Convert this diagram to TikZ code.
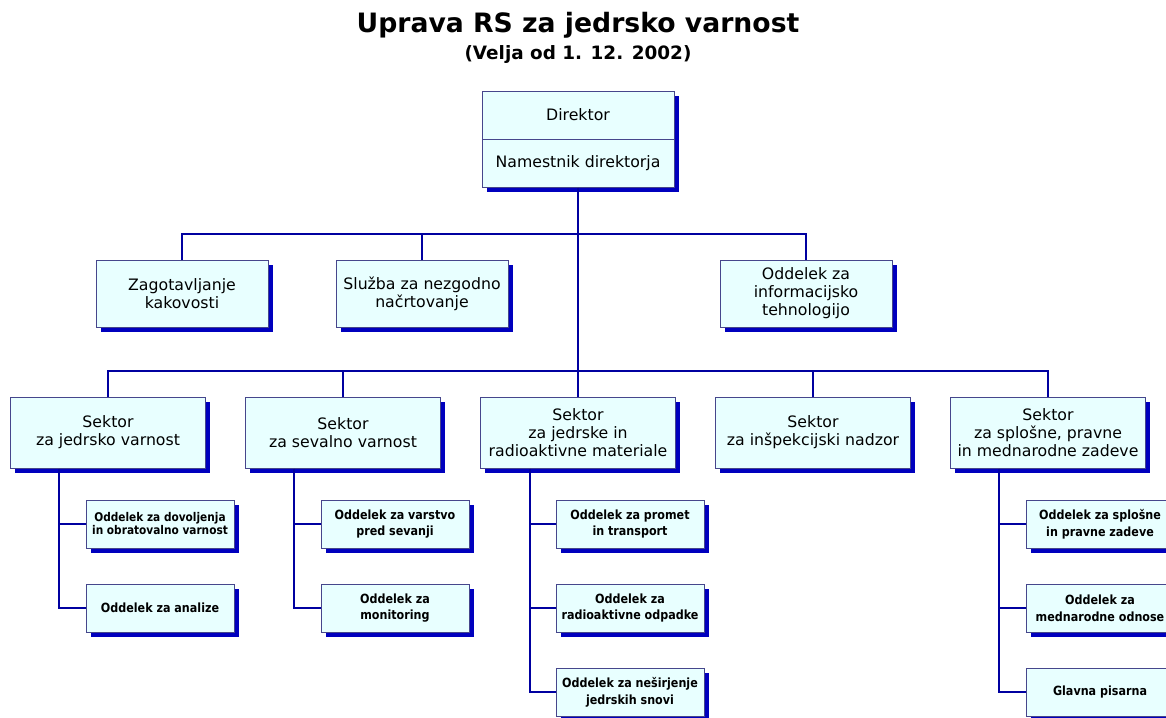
\documentclass[tikz,border=0pt]{standalone}
\usepackage{fontspec}
\setmainfont{DejaVu Sans}
\newfontfamily\deptfont[FakeStretch=0.88]{DejaVu Sans}
\usetikzlibrary{shadows}

\definecolor{boxfill}{RGB}{232,255,255}
\definecolor{boxline}{RGB}{70,70,140}
\definecolor{shadowblue}{RGB}{0,0,190}
\definecolor{linkblue}{RGB}{0,0,160}

\tikzset{
  orgbox/.style={draw=boxline, fill=boxfill, line width=0.75pt, align=center, inner sep=0pt,
    drop shadow={shadow xshift=3.6pt, shadow yshift=-3.6pt, fill=shadowblue, opacity=1},
    font=\fontsize{11.8}{13.5}\selectfont},
  headbox/.style={orgbox, minimum width=144pt, minimum height=36pt},
  staffbox/.style={orgbox, minimum width=129pt, minimum height=50.25pt},
  sectorbox/.style={orgbox, minimum width=146.25pt, minimum height=53.25pt},
  deptbox/.style={orgbox, minimum width=111pt, minimum height=36pt,
    font=\deptfont\fontsize{9.5}{12.5}\selectfont\bfseries},
  link/.style={draw=linkblue, line width=1.5pt},
}

\begin{document}
\begin{tikzpicture}[x=0.75pt,y=0.75pt,yscale=-1,xscale=1]
\clip (0,0) rectangle (1166,717);

% Title
\node [anchor=base, font=\fontsize{20}{24}\selectfont\bfseries] (title) at (578,33) {Uprava RS za jedrsko varnost};
\node [anchor=base, font=\fontsize{13.8}{16}\selectfont\bfseries] (subtitle) at (578,60) {(Velja od 1. 12. 2002)};

% Director
\node [headbox] (dir) at (578,115) {Direktor};
\node [headbox] (dep) at (578,163) {Namestnik direktorja};

% Staff units
\node [staffbox] (zag) at (182,293.5) {Zagotavljanje\\kakovosti};
\node [staffbox] (sluzba) at (422,293.5) {Služba za nezgodno\\načrtovanje};
\node [staffbox] (it) at (806,293.5) {Oddelek za\\informacijsko\\tehnologijo};

% Sectors
\node [sectorbox] (s1) at (108,432.5) {Sektor\\za jedrsko varnost};
\node [sectorbox] (s2) at (343,432.5) {Sektor\\za sevalno varnost};
\node [sectorbox] (s3) at (578,432.5) {Sektor\\za jedrske in\\radioaktivne materiale};
\node [sectorbox] (s4) at (813,432.5) {Sektor\\za inšpekcijski nadzor};
\node [sectorbox] (s5) at (1048,432.5) {Sektor\\za splošne, pravne\\in mednarodne zadeve};

% Departments
\node [deptbox, font=\deptfont\fontsize{9}{9.75}\selectfont\bfseries] (d11) at (160,524) {Oddelek za dovoljenja\\in obratovalno varnost};
\node [deptbox] (d12) at (160,608) {Oddelek za analize};
\node [deptbox] (d21) at (395,524) {Oddelek za varstvo\\pred sevanji};
\node [deptbox] (d22) at (395,608) {Oddelek za\\monitoring};
\node [deptbox] (d31) at (630,524) {Oddelek za promet\\in transport};
\node [deptbox] (d32) at (630,608) {Oddelek za\\radioaktivne odpadke};
\node [deptbox] (d33) at (630,692) {Oddelek za neširjenje\\jedrskih snovi};
\node [deptbox] (d51) at (1100,524) {Oddelek za splošne\\in pravne zadeve};
\node [deptbox] (d52) at (1100,608) {Oddelek za\\mednarodne odnose};
\node [deptbox] (d53) at (1100,692) {Glavna pisarna};

% Buses
\coordinate (bus1) at (578,234);
\coordinate (bus2) at (578,371);

% Connectors
\draw [link] (dep.south) -- (s3.north);
\draw [link] (zag.north) |- (bus1) -| (it.north);
\draw [link] (sluzba.north) -- (sluzba.north |- bus1);
\draw [link] (s1.north) |- (bus2) -| (s5.north);
\draw [link] (s2.north) -- (s2.north |- bus2);
\draw [link] (s4.north) -- (s4.north |- bus2);

\coordinate (t1) at ([xshift=-36.75pt]s1.south);
\coordinate (t2) at ([xshift=-36.75pt]s2.south);
\coordinate (t3) at ([xshift=-36pt]s3.south);
\coordinate (t5) at ([xshift=-36.75pt]s5.south);
\draw [link] (t1) |- (d12.west);
\draw [link] (d11.west) -- (d11.west -| t1);
\draw [link] (t2) |- (d22.west);
\draw [link] (d21.west) -- (d21.west -| t2);
\draw [link] (t3) |- (d33.west);
\draw [link] (d31.west) -- (d31.west -| t3);
\draw [link] (d32.west) -- (d32.west -| t3);
\draw [link] (t5) |- (d53.west);
\draw [link] (d51.west) -- (d51.west -| t5);
\draw [link] (d52.west) -- (d52.west -| t5);

\end{tikzpicture}
\end{document}
